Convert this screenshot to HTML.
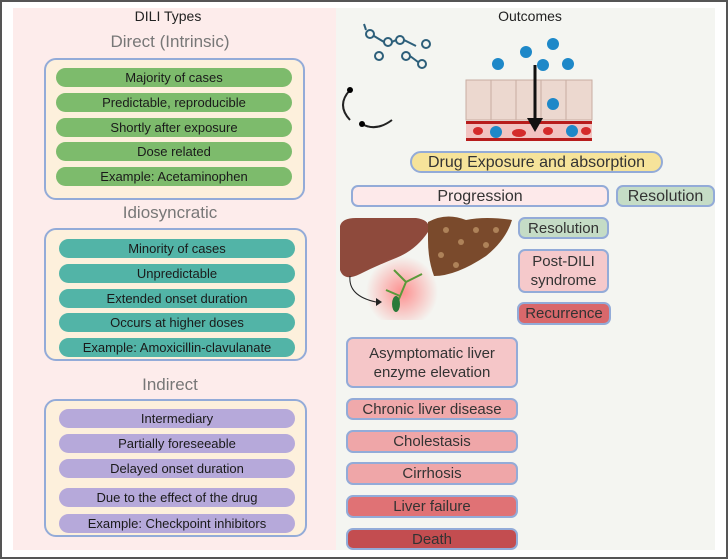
<!DOCTYPE html>
<html><head><meta charset="utf-8"><style>
*{margin:0;padding:0;box-sizing:border-box}
body{width:728px;height:559px;background:#fff;position:relative;overflow:hidden;font-family:"Liberation Sans",sans-serif;color:#222}
.frame{position:absolute;left:0;top:0;width:728px;height:559px;border:2px solid #555;border-bottom-width:2px}
.lp{position:absolute;left:13px;top:8px;width:323px;height:542px;background:#fdeceb}
.rp{position:absolute;left:336px;top:8px;width:379px;height:542px;background:#f4f5f1}
.t{position:absolute;text-align:center;white-space:nowrap}
.box{position:absolute;background:#fdf0dc;border:2px solid #93abd8;border-radius:12px}
.p{position:absolute;height:19px;border-radius:10px;font-size:13px;line-height:19px;text-align:center;white-space:nowrap;color:#1a1a1a}
.g{background:#7dbb6c}.tl{background:#52b4a7}.pu{background:#b6a9da}
.o{position:absolute;border:2px solid #93abd8;border-radius:7px;text-align:center;font-size:15px;color:#333;white-space:nowrap;display:flex;align-items:center;justify-content:center;line-height:19px}
</style></head><body>
<div class="lp"></div><div class="rp"></div>
<div class="frame"></div>
<div class="t" style="left:100px;width:136px;top:8px;font-size:14px">DILI Types</div>
<div class="t" style="left:60px;width:220px;top:32px;font-size:17px;color:#777">Direct (Intrinsic)</div>
<div class="t" style="left:60px;width:220px;top:203px;font-size:17px;color:#777">Idiosyncratic</div>
<div class="t" style="left:60px;width:220px;top:375px;font-size:17px;color:#777">Indirect</div>
<div class="box" style="left:44px;top:58px;width:261px;height:142px"></div>
<div class="box" style="left:44px;top:228px;width:263px;height:133px"></div>
<div class="box" style="left:44px;top:399px;width:263px;height:138px"></div>
<div class="p g" style="left:56px;top:68px;width:236px">Majority of cases</div>
<div class="p g" style="left:56px;top:93px;width:236px">Predictable, reproducible</div>
<div class="p g" style="left:56px;top:118px;width:236px">Shortly after exposure</div>
<div class="p g" style="left:56px;top:142px;width:236px">Dose related</div>
<div class="p g" style="left:56px;top:167px;width:236px">Example: Acetaminophen</div>
<div class="p tl" style="left:59px;top:239px;width:236px">Minority of cases</div>
<div class="p tl" style="left:59px;top:264px;width:236px">Unpredictable</div>
<div class="p tl" style="left:59px;top:289px;width:236px">Extended onset duration</div>
<div class="p tl" style="left:59px;top:313px;width:236px">Occurs at higher doses</div>
<div class="p tl" style="left:59px;top:338px;width:236px">Example: Amoxicillin-clavulanate</div>
<div class="p pu" style="left:59px;top:409px;width:236px">Intermediary</div>
<div class="p pu" style="left:59px;top:434px;width:236px">Partially foreseeable</div>
<div class="p pu" style="left:59px;top:459px;width:236px">Delayed onset duration</div>
<div class="p pu" style="left:59px;top:488px;width:236px">Due to the effect of the drug</div>
<div class="p pu" style="left:59px;top:514px;width:236px">Example: Checkpoint inhibitors</div>

<div class="t" style="left:470px;width:120px;top:8px;font-size:14px">Outcomes</div>
<svg style="position:absolute;left:336px;top:20px" width="379" height="300">
 <defs><radialGradient id="rg"><stop offset="0" stop-color="#f77" stop-opacity="0.8"/><stop offset="1" stop-color="#f77" stop-opacity="0"/></radialGradient></defs>
 <g stroke="#2d5f7a" stroke-width="2" fill="none">
  <circle cx="34" cy="14" r="4"/><circle cx="52" cy="22" r="4"/><circle cx="64" cy="20" r="4"/><circle cx="43" cy="36" r="4"/><circle cx="70" cy="36" r="4"/><circle cx="90" cy="24" r="4"/><circle cx="86" cy="44" r="4"/>
  <path d="M38 16 L48 22 M56 22 L60 20 M68 20 L80 26 M74 36 L82 42 M30 10 L28 4"/>
 </g>
 <g stroke="#222" stroke-width="2" fill="none"><path d="M14 70 Q0 85 14 100"/><path d="M26 104 Q40 112 56 100"/></g>
 <circle cx="14" cy="70" r="3"/><circle cx="26" cy="104" r="3"/>
 <rect x="130" y="60" width="126" height="40" fill="#ecd8cf" stroke="#c8ada2"/>
 <g stroke="#c8ada2"><line x1="155" y1="60" x2="155" y2="100"/><line x1="180" y1="60" x2="180" y2="100"/><line x1="205" y1="60" x2="205" y2="100"/><line x1="230" y1="60" x2="230" y2="100"/></g>
 <rect x="130" y="102" width="126" height="18" fill="#f2c3c1"/>
 <rect x="130" y="101" width="126" height="3" fill="#b71c1c"/><rect x="130" y="118" width="126" height="3" fill="#b71c1c"/>
 <g fill="#d42b2b"><ellipse cx="142" cy="111" rx="5" ry="4"/><ellipse cx="183" cy="113" rx="7" ry="4"/><ellipse cx="212" cy="111" rx="5" ry="4"/><ellipse cx="250" cy="111" rx="5" ry="4"/></g>
 <g fill="#1e88c8"><circle cx="162" cy="44" r="6"/><circle cx="190" cy="32" r="6"/><circle cx="217" cy="24" r="6"/><circle cx="207" cy="45" r="6"/><circle cx="232" cy="44" r="6"/><circle cx="217" cy="84" r="6"/><circle cx="160" cy="112" r="6"/><circle cx="236" cy="111" r="6"/></g>
 <line x1="199" y1="45" x2="199" y2="100" stroke="#111" stroke-width="3"/><path d="M191 98 L207 98 L199 112Z" fill="#111"/>
 <path d="M4 206 Q6 198 20 198 L80 198 Q96 200 92 212 Q80 230 60 238 Q40 246 24 254 Q8 262 4 250Z" fill="#8e4a3c"/>
 <path d="M92 202 Q110 192 130 200 Q150 196 176 200 Q170 220 150 236 Q120 256 98 256 Q92 240 92 220Z" fill="#7a4a2c"/>
 <g fill="#c49a6c" opacity="0.7"><circle cx="110" cy="210" r="3"/><circle cx="125" cy="222" r="3"/><circle cx="140" cy="210" r="3"/><circle cx="105" cy="235" r="3"/><circle cx="150" cy="225" r="3"/><circle cx="120" cy="245" r="3"/><circle cx="160" cy="210" r="3"/></g>
 <circle cx="66" cy="272" r="36" fill="url(#rg)"/>
 <path d="M60 286 L70 262 M70 262 L86 254 M70 262 L58 250 M64 276 L50 270" stroke="#5a9a3a" stroke-width="2" fill="none"/>
 <ellipse cx="60" cy="284" rx="4" ry="8" fill="#2a7a3a"/>
 <path d="M14 256 Q12 276 40 282" stroke="#222" fill="none"/><path d="M40 278 L46 282 L40 286Z" fill="#222"/>
</svg>
<div class="o" style="left:410px;top:151px;width:253px;height:22px;background:#f6e39a;border-radius:11px;font-size:16px">Drug Exposure and absorption</div>
<div class="o" style="left:351px;top:185px;width:258px;height:22px;background:#fde9ea;font-size:16px">Progression</div>
<div class="o" style="left:616px;top:185px;width:99px;height:22px;background:#c5dcc6;font-size:16px">Resolution</div>
<div class="o" style="left:518px;top:217px;width:91px;height:22px;background:#c5dcc6">Resolution</div>
<div class="o" style="left:518px;top:249px;width:91px;height:44px;background:#f5c9cb">Post-DILI<br>syndrome</div>
<div class="o" style="left:517px;top:302px;width:94px;height:23px;background:#d9686b">Recurrence</div>
<div class="o" style="left:346px;top:337px;width:172px;height:51px;background:#f5c6c8">Asymptomatic liver<br>enzyme elevation</div>
<div class="o" style="left:346px;top:398px;width:172px;height:22px;background:#f0a9ab">Chronic liver disease</div>
<div class="o" style="left:346px;top:430px;width:172px;height:23px;background:#efa6a8">Cholestasis</div>
<div class="o" style="left:346px;top:462px;width:172px;height:23px;background:#efa6a8">Cirrhosis</div>
<div class="o" style="left:346px;top:495px;width:172px;height:23px;background:#e07275">Liver failure</div>
<div class="o" style="left:346px;top:528px;width:172px;height:22px;background:#c34d50">Death</div>
</body></html>
